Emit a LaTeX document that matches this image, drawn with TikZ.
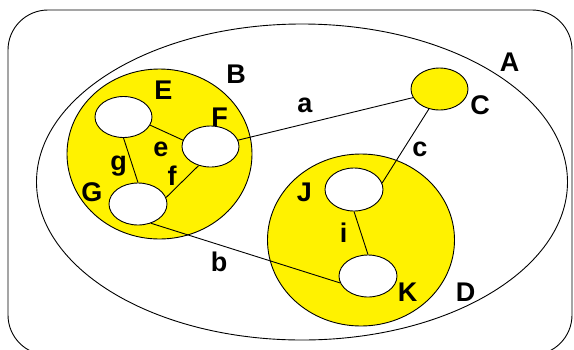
\documentclass[tikz,border=0pt]{standalone}
\usepackage{fontspec}
\setmainfont{Liberation Sans}
\usetikzlibrary{shapes.geometric}
\begin{document}
\begin{tikzpicture}[x=1pt,y=-1pt,line width=0.9pt,
  set/.style={ellipse,draw,fill=yellow,inner sep=0pt},
  elem/.style={ellipse,draw,fill=white,inner sep=0pt,minimum width=57pt,minimum height=41pt},
  lbl/.style={inner sep=0pt,font=\fontsize{27}{27}\selectfont\bfseries},
  conn/.style={draw,line width=0.9pt}]
\useasboundingbox (0,0) rectangle (574,349);
\draw[rounded corners=40pt] (8,10) rectangle (572,355);
\node[ellipse,draw,inner sep=0pt,minimum width=531pt,minimum height=316pt] (A) at (302,182) {};
\node[set,minimum width=185pt,minimum height=170pt] (B) at (159.5,154) {};
\node[set,minimum width=187pt,minimum height=172pt] (D) at (361,240) {};
\node[set,minimum width=57pt,minimum height=42pt] (C) at (439.5,89) {};
\node[elem] (E) at (123.5,117) {};
\node[elem] (F) at (210.5,146.5) {};
\node[elem,minimum width=58pt,minimum height=42pt] (G) at (138,204) {};
\node[elem,minimum width=58pt,minimum height=43pt] (J) at (354,189.5) {};
\node[elem,minimum width=58pt,minimum height=42pt] (K) at (368,276) {};
\draw[conn] (E.343) -- (F.167);
\draw[conn] (E.south) -- (G.north);
\draw[conn] (F.238) -- (G.13);
\draw[conn] (F.13) -- (C.198);
\draw[conn] (C.242) -- (J.13);
\draw[conn] (J.south) -- (K.north);
\draw[conn] (G.304) -- (K.194);
\node[lbl] (lA) at (509.5,62.5) {A};
\node[lbl] (lB) at (236,74) {B};
\node[lbl] (lC) at (480,105) {C};
\node[lbl] (lD) at (465.5,292) {D};
\node[lbl] (lE) at (163.5,90) {E};
\node[lbl] (lF) at (219.5,117) {F};
\node[lbl] (lG) at (92,192) {G};
\node[lbl] (lJ) at (304.5,192) {J};
\node[lbl] (lK) at (407.5,292) {K};
\node[lbl] (la) at (305,105) {a};
\node[lbl] (lb) at (219,262) {b};
\node[lbl] (lc) at (420,149.5) {c};
\node[lbl] (le) at (161,149.5) {e};
\node[lbl] (lf) at (172,176) {f};
\node[lbl] (lg) at (118.5,166) {g};
\node[lbl] (li) at (343.5,233) {i};
\end{tikzpicture}
\end{document}
